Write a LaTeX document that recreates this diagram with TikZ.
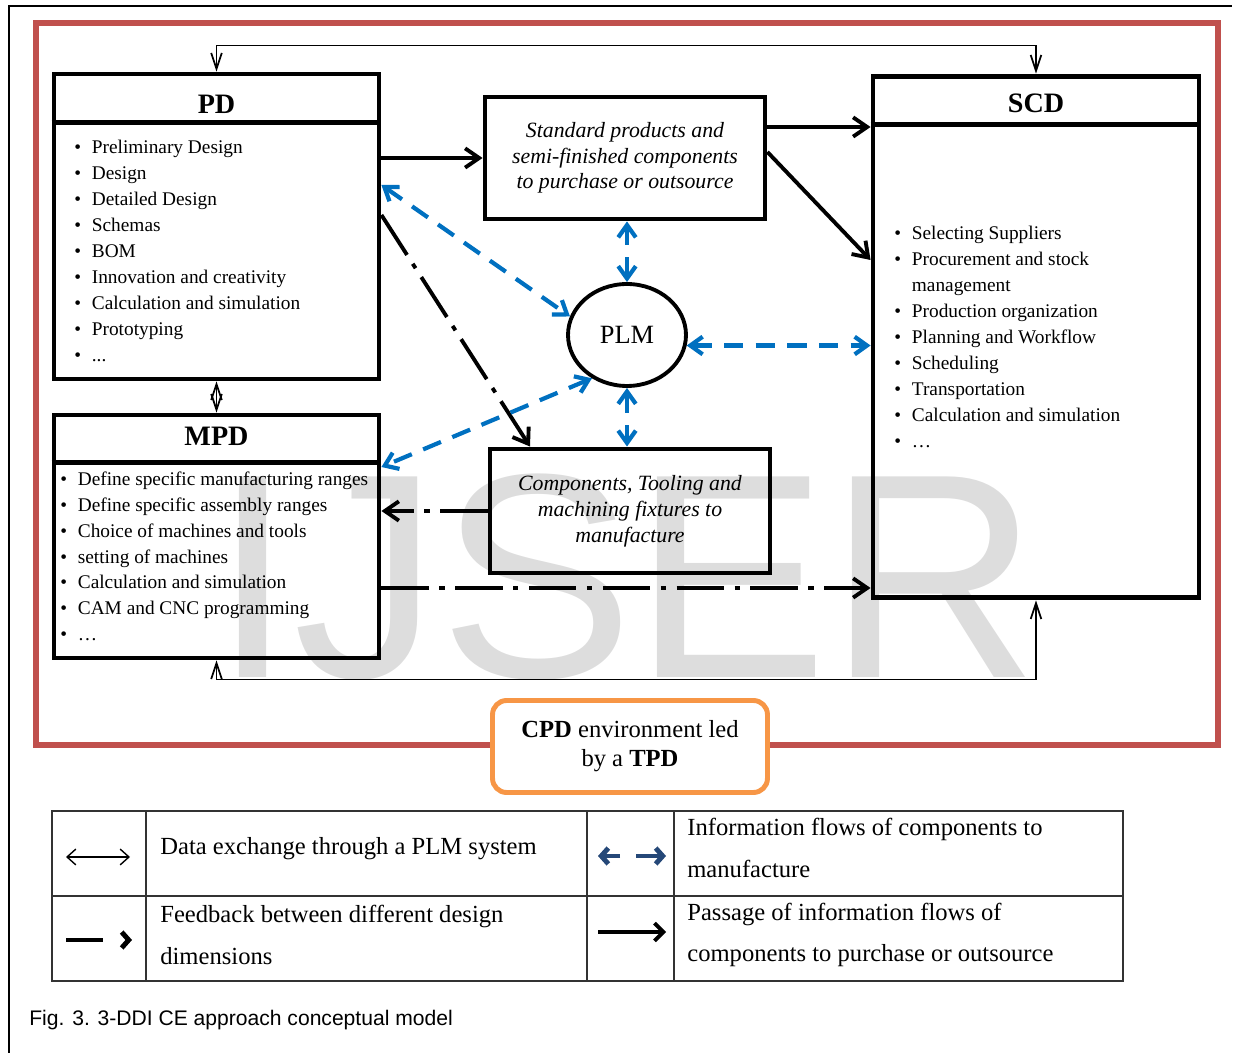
\documentclass[tikz,border=0pt]{standalone}
\usepackage{fontspec}
\setmainfont{Liberation Serif}
\newfontfamily\capfont{Liberation Sans}
\usetikzlibrary{arrows.meta,calc,shapes.geometric}

\definecolor{framered}{RGB}{192,80,77}
\definecolor{cpdorange}{RGB}{247,150,70}
\definecolor{plmblue}{RGB}{0,112,192}
\definecolor{legblue}{RGB}{37,72,120}
\definecolor{marklight}{RGB}{221,221,221}

\begin{document}
\begin{tikzpicture}[x=0.02cm,y=-0.02cm,
  box/.style={draw,line width=2.8pt,inner sep=0pt},
  headline/.style={line width=2.8pt},
  title/.style={inner sep=0pt,font=\fontsize{16}{18}\selectfont\bfseries},
  item/.style={anchor=base west,inner sep=0pt,font=\fontsize{11}{13}\selectfont},
  data/.style={line width=1pt,>={Straight Barb[length=9pt,width=6pt]},<->},
  flow/.style={line width=2.2pt,>={Straight Barb[length=8pt,width=11pt]},->},
  feedback/.style={flow,dash pattern=on 27pt off 6pt on 3pt off 6pt},
  plmlink/.style={plmblue,line width=2.4pt,dash pattern=on 11pt off 7pt,>={Straight Barb[length=7pt,width=10pt]},<->},
  grid/.style={line width=0.8pt,black!80},
  legtext/.style={anchor=west,inner sep=0pt,align=left,font=\fontsize{14}{23.5}\selectfont}]
\useasboundingbox (0,0) rectangle (1235,1053);

% watermark
\begin{scope}
\clip (0,0) rectangle (1235,679);
\node[anchor=base west,inner sep=0pt,text=marklight,font=\capfont\fontsize{166}{166}\selectfont] (mark) at (212,678) {IJSER};
\end{scope}

% page frame and CPD frame
\draw[line width=1.1pt] (9,1053) -- (9,6) -- (1232,6);
\draw[framered,line width=3.4pt] (36,23) rectangle (1218,745);

% PD
\node[box,minimum width=6.5cm,minimum height=6.1cm] (pd) at (216.5,226.5) {};
\draw[headline] ($(pd.north west)+(0,51)$) -- ($(pd.north east)+(0,51)$);
\node[title] (pdtitle) at ($(pd.north)+(0,33)$) {PD};
\foreach \t [count=\i] in {Preliminary Design,Design,Detailed Design,Schemas,BOM,Innovation and creativity,Calculation and simulation,Prototyping,.{}.{}.}
  \node[item] (pditem\i) at (74,{154+25.9*(\i-1)}) {\makebox[10pt][l]{\textbullet}\t};

% MPD
\node[box,minimum width=6.5cm,minimum height=4.86cm] (mpd) at (216.5,536.5) {};
\draw[headline] ($(mpd.north west)+(0,50)$) -- ($(mpd.north east)+(0,50)$);
\node[title] (mpdtitle) at ($(mpd.north)+(0,24)$) {MPD};
\foreach \t [count=\i] in {Define specific manufacturing ranges,Define specific assembly ranges,Choice of machines and tools,setting of machines,Calculation and simulation,CAM and CNC programming,\dots}
  \node[item] (mpditem\i) at (60,{486+25.7*(\i-1)}) {\makebox[10pt][l]{\textbullet}\t};

% SCD
\node[box,minimum width=6.52cm,minimum height=10.44cm] (scd) at (1036,337) {};
\draw[headline] ($(scd.north west)+(0,51)$) -- ($(scd.north east)+(0,51)$);
\node[title] (scdtitle) at ($(scd.north)+(0,30)$) {SCD};
\foreach \b/\t [count=\i] in {1/Selecting Suppliers,1/Procurement and stock,0/management,1/Production organization,1/Planning and Workflow,1/Scheduling,1/Transportation,1/Calculation and simulation,1/\dots}
  \node[item] (scditem\i) at (894,{240+26*(\i-1)}) {\makebox[10pt][l]{\ifnum\b=1 \textbullet\fi}\t};

% middle boxes
\node[box,minimum width=5.6cm,minimum height=2.44cm,align=center,font=\fontsize{12.4}{14.4}\selectfont\itshape] (std) at (625,158) {Standard products and\\semi-finished components\\to purchase or outsource};
\node[box,minimum width=5.6cm,minimum height=2.48cm,align=center,font=\fontsize{12.4}{14.8}\selectfont\itshape] (comp) at (630,511) {Components, Tooling and\\machining fixtures to\\manufacture};
\node[draw,ellipse,line width=2.2pt,minimum width=2.36cm,minimum height=2.04cm,inner sep=0pt,font=\fontsize{15}{17}\selectfont] (plm) at (627,335) {PLM};

% data exchange through PLM
\draw[data] (pd.north) -- ++(0,-26) -| (scd.north);
\draw[data] (mpd.south) -- ++(0,19) -| (scd.south);
\draw[data] (pd.south) -- (mpd.north);

% purchase or outsource
\draw[flow] (pd.east |- std.west) -- (std.west);
\draw[flow] (std.east |- 0,127) -- (scd.west |- 0,127);
\draw[flow] (std.east |- 0,152) -- (scd.west |- 0,260);

% feedback
\draw[feedback] (pd.east |- 0,215) -- (comp.north -| 530,0);
\draw[feedback] (comp.west) -- (mpd.east |- comp.west);
\draw[feedback] (mpd.east |- 0,588) -- (scd.west |- 0,588);

% components to manufacture
\draw[plmlink] (pd.east |- 0,185) -- (plm.162);
\draw[plmlink] (plm.231) -- (mpd.east |- 0,467);
\draw[plmlink] (plm.north) -- (plm.north |- std.south);
\draw[plmlink] (plm.south) -- (plm.south |- comp.north);
\draw[plmlink] (plm.-10) -- (plm.-10 -| scd.west);

% CPD label
\node[draw=cpdorange,fill=white,line width=2.8pt,rounded corners=8pt,minimum width=5.5cm,minimum height=1.84cm,align=center,font=\fontsize{14}{16.5}\selectfont] (cpd) at (630,746.5) {\textbf{CPD} environment led\\by a \textbf{TPD}};

% legend
\draw[grid] (52,811) rectangle (1123,981);
\draw[grid] (52,896) -- (1123,896);
\foreach \x in {146,587,674}
  \draw[grid] (\x,811) -- (\x,981);
\draw[line width=0.8pt,>={Straight Barb[length=5pt,width=9pt]},<->] (66,857) -- (130,857);
\draw[legblue,line width=2.8pt,>={Straight Barb[length=4pt,width=9pt]},->] (620,856) -- (598,856);
\draw[legblue,line width=2.8pt,>={Straight Barb[length=4pt,width=9pt]},->] (636,856) -- (666,856);
\draw[line width=2.8pt,dash pattern=on 21pt off 30pt,>={Straight Barb[length=4pt,width=9pt]},->] (66,940) -- (132,940);
\draw[line width=2.2pt,>={Straight Barb[length=5pt,width=10pt]},->] (598,932) -- (666,932);
\node[legtext] (leg1) at (160,849) {Data exchange through a PLM system};
\node[legtext] (leg2) at (687,848) {Information flows of components to\\manufacture};
\node[legtext] (leg3) at (160,935) {Feedback between different design\\dimensions};
\node[legtext] (leg4) at (687,935) {Passage of information flows of\\components to purchase or outsource};

% caption
\node[anchor=west,inner sep=0pt,font=\capfont\fontsize{12}{14}\selectfont] (caption) at (29,1020) {Fig. 3. 3-DDI CE approach conceptual model};
\end{tikzpicture}
\end{document}
